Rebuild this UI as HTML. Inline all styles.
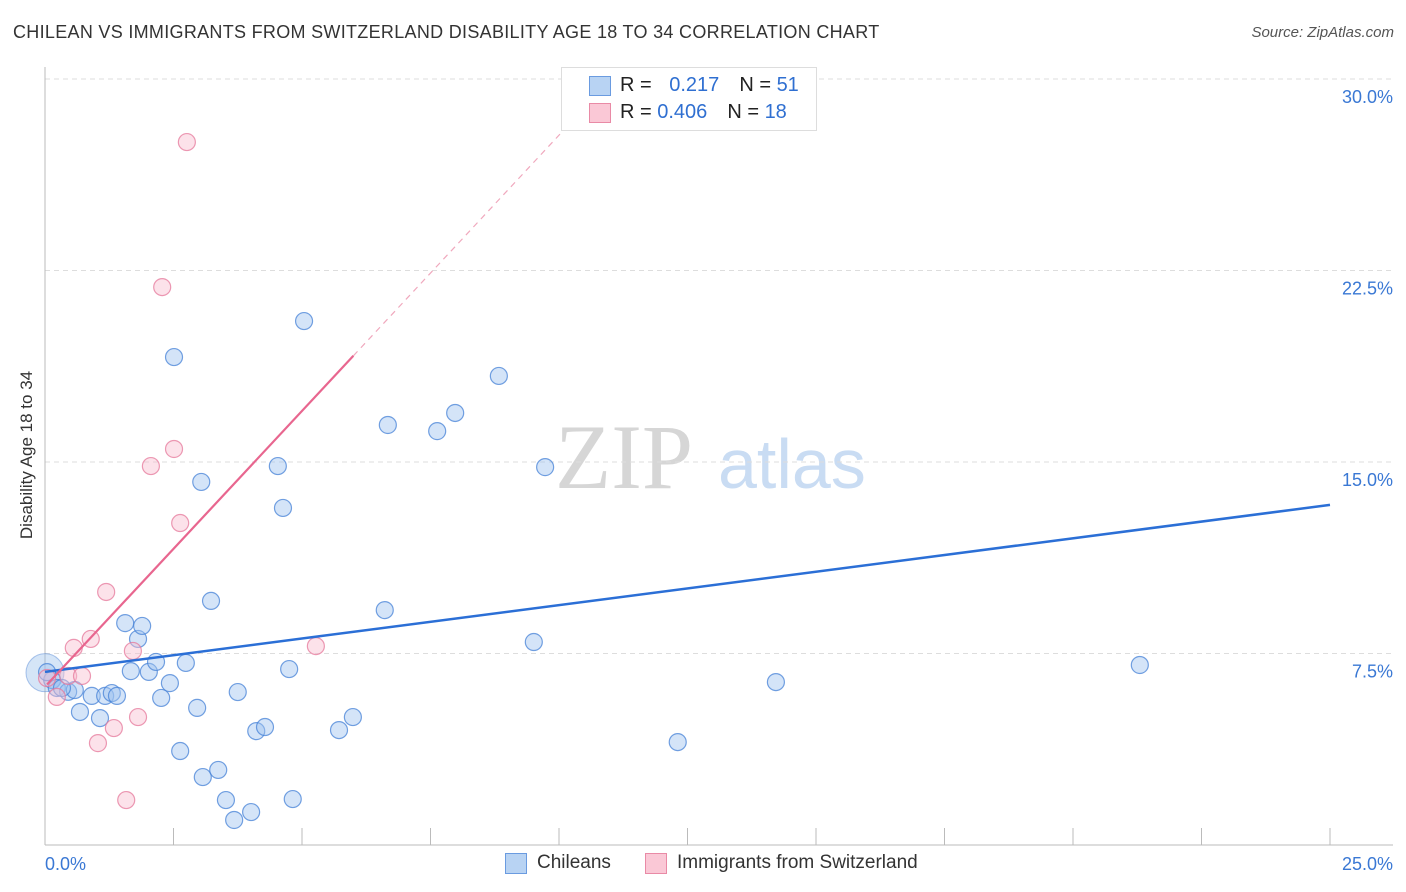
<!DOCTYPE html>
<html><head><meta charset="utf-8">
<style>
body{margin:0;background:#fff;font-family:"Liberation Sans",sans-serif;}
#wrap{position:relative;width:1406px;height:892px;overflow:hidden;}
.t{position:absolute;white-space:nowrap;}
</style></head><body>
<div id="wrap">
<div class="t" style="left:13px;top:22px;font-size:18px;letter-spacing:0.3px;color:#333;">CHILEAN VS IMMIGRANTS FROM SWITZERLAND DISABILITY AGE 18 TO 34 CORRELATION CHART</div>
<div class="t" style="right:12px;top:24px;font-size:15px;color:#555;font-style:italic;">Source: ZipAtlas.com</div>
<div class="t" style="left:27px;top:455px;font-size:17px;color:#333;transform:translate(-50%,-50%) rotate(-90deg);">Disability Age 18 to 34</div>
<svg id="svg" width="1406" height="892" style="position:absolute;left:0;top:0">
<text x="555" y="488" font-family="Liberation Serif,serif" font-size="92" fill="#d6d6d6">ZIP</text>
<text x="718" y="488" font-family="Liberation Sans,sans-serif" font-size="70" fill="#c9dcf3">atlas</text>
</svg>
<div style="position:absolute;left:561px;top:67px;width:254px;height:62px;border:1px solid #ddd;background:#fff;font-size:20px;">
 <div style="position:absolute;left:27px;top:8px;width:20px;height:18px;background:#b8d3f3;border:1px solid #6a9be0;"></div>
 <div class="t" style="left:58px;top:6px;color:#222;">R = <span style="color:#2f6fd1;margin-left:12px">0.217</span><span style="margin-left:20px">N = </span><span style="color:#2f6fd1">51</span></div>
 <div style="position:absolute;left:27px;top:35px;width:20px;height:18px;background:#fac8d6;border:1px solid #e98aa6;"></div>
 <div class="t" style="left:58px;top:33px;color:#222;">R = <span style="color:#2f6fd1">0.406</span><span style="margin-left:20px">N = </span><span style="color:#2f6fd1">18</span></div>
</div>
<div>
 <div style="position:absolute;left:505px;top:853px;width:20px;height:19px;background:#b8d3f3;border:1px solid #6a9be0;"></div>
 <div class="t" style="left:537px;top:852px;font-size:19px;color:#333;">Chileans</div>
 <div style="position:absolute;left:645px;top:853px;width:20px;height:19px;background:#fac8d6;border:1px solid #e98aa6;"></div>
 <div class="t" style="left:677px;top:852px;font-size:19px;color:#333;">Immigrants from Switzerland</div>
</div>
</div>
<script>
const blueX=[0.14,0.04,0.23,0.45,0.58,0.68,0.91,1.07,1.17,1.30,1.40,1.56,1.67,1.81,1.89,2.02,2.16,2.26,2.43,2.51,2.63,2.74,2.96,3.04,3.07,3.23,3.37,3.52,3.68,3.75,4.01,4.11,4.28,4.53,4.63,4.75,4.82,5.04,5.72,5.99,6.61,6.67,7.63,7.98,8.83,9.51,9.73,12.31,14.22,21.30,0.33];
const blueY=[6.46,6.77,6.15,6.00,6.07,5.21,5.84,4.97,5.84,5.95,5.84,8.69,6.81,8.07,8.58,6.78,7.17,5.76,6.34,19.11,3.68,7.13,5.37,14.22,2.66,9.56,2.94,1.76,0.98,5.99,1.29,4.46,4.62,14.84,13.20,6.89,1.80,20.52,4.50,5.01,9.20,16.45,16.21,16.92,18.37,7.95,14.80,4.03,6.38,7.05,6.15];
const pinkX=[0.04,0.23,0.45,0.56,0.72,0.89,1.03,1.19,1.34,1.58,1.71,1.81,2.06,2.28,2.51,2.63,2.76,5.27];
const pinkY=[6.54,5.80,6.62,7.72,6.62,8.07,3.99,9.91,4.58,1.76,7.60,5.01,14.84,21.85,15.51,12.61,27.53,7.79];
const blueTrend=[6.78,13.32]; // y at x=0 and x=25
const pinkTrend=[6.2,2.16];   // intercept, slope
const yTicks=[7.5,15,22.5,30];
const yTickLabels=["7.5%","15.0%","22.5%","30.0%"];
const xTicks=[0,2.5,5,7.5,10,12.5,15,17.5,20,22.5,25];

const NS="http://www.w3.org/2000/svg";
const svg=document.getElementById('svg');
const X=v=>45+v/25*1285;
const Y=v=>845-v/7.5*191.5;
function mk(tag,attrs){const e=document.createElementNS(NS,tag);for(const k in attrs)e.setAttribute(k,attrs[k]);svg.appendChild(e);return e;}
yTicks.forEach((t,i)=>{
 const g=mk('line',{x1:45,x2:1393,y1:Y(t),y2:Y(t),stroke:'#ddd','stroke-dasharray':'5,4'});
 
 
 const l=mk('text',{x:1393,y:Y(t)+24,'text-anchor':'end','font-size':18,fill:'#3a78d4','font-family':'Liberation Sans,sans-serif'});
 l.textContent=yTickLabels[i];
 
 
});
const ax=mk('line',{x1:45,x2:45,y1:67,y2:845,stroke:'#bbb'});


const bx=mk('line',{x1:45,x2:1393,y1:845,y2:845,stroke:'#bbb'});


xTicks.forEach(t=>{const e=mk('line',{x1:X(t),x2:X(t),y1:828,y2:845,stroke:'#bbb'});
 
 });
const xl0=mk('text',{x:45,y:870,'font-size':18,fill:'#3a78d4','font-family':'Liberation Sans,sans-serif'});xl0.textContent='0.0%';


const xl1=mk('text',{x:1393,y:870,'text-anchor':'end','font-size':18,fill:'#3a78d4','font-family':'Liberation Sans,sans-serif'});xl1.textContent='25.0%';


const big=mk('circle',{cx:X(0),cy:Y(6.75),r:19,fill:'rgba(150,190,235,0.4)',stroke:'rgba(90,140,215,0.5)'});


blueX.forEach((x,i)=>{const c=mk('circle',{cx:X(x),cy:Y(blueY[i]),r:8.5,fill:'rgba(160,195,240,0.45)',stroke:'rgba(70,130,215,0.75)','stroke-width':1.2});
 
 });
pinkX.forEach((x,i)=>{const c=mk('circle',{cx:X(x),cy:Y(pinkY[i]),r:8.5,fill:'rgba(248,190,208,0.45)',stroke:'rgba(230,120,155,0.75)','stroke-width':1.2});
 
 });
const bl=mk('line',{x1:X(0),y1:Y(blueTrend[0]),x2:X(25),y2:Y(blueTrend[1]),stroke:'#2b6fd6','stroke-width':2.5});


const px=v=>pinkTrend[0]+pinkTrend[1]*v;
const pl=mk('line',{x1:X(0.04),y1:Y(px(0.04)),x2:X(6.0),y2:Y(px(6.0)),stroke:'#e8668f','stroke-width':2.2});


const pd=mk('line',{x1:X(6.0),y1:Y(px(6.0)),x2:X(11.0),y2:Y(px(11.0)),stroke:'#f0a8bd','stroke-width':1.2,'stroke-dasharray':'6,5'});


</script>
</body></html>
